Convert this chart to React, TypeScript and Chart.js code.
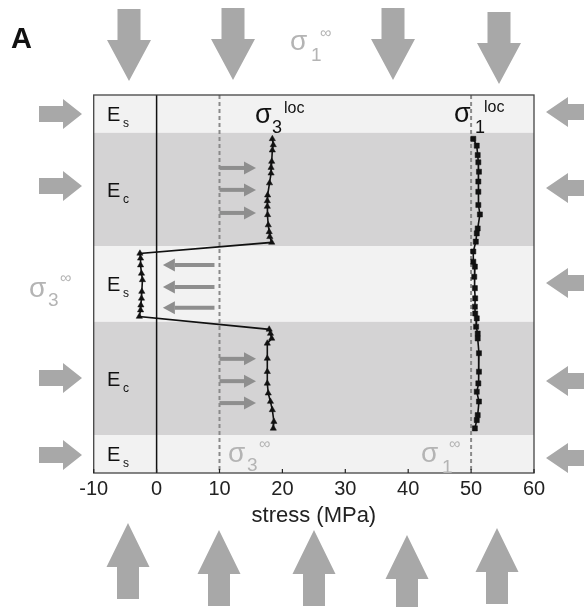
import React, { useEffect, useRef } from "react";
import { Chart, registerables } from "chart.js";
Chart.register(...registerables);

// ---- data ----
const xTicks = [-10, 0, 10, 20, 30, 40, 50, 60];
const layerNames = ["s", "c", "s", "c", "s"]; // E_s / E_c
const layerBounds = [0, 10, 40, 60, 90, 100]; // depth (top -> bottom)
const sigma3FarField = 10;
const sigma1FarField = 50;

const sigma3Depth = [11.6, 13.2, 14.6, 17.6, 19.2, 20.7, 23.3, 26.5, 28.0, 29.5, 31.7, 34.4, 36.2, 37.5, 39.0,
  41.9, 43.2, 45.0, 47.2, 48.9, 52.0, 53.8, 55.6, 56.9, 58.6,
  62.0, 63.1, 64.4, 65.7, 69.7, 73.2, 76.3, 78.9, 81.1, 83.3, 86.4, 88.2];
const sigma3Stress = [18.4, 18.55, 18.4, 18.3, 18.2, 18.2, 17.95, 17.65, 17.6, 17.6, 17.65, 17.75, 17.9, 18.0, 18.3,
  -2.65, -2.55, -2.55, -2.4, -2.25, -2.35, -2.4, -2.5, -2.55, -2.75,
  17.9, 18.1, 18.3, 17.6, 17.6, 17.6, 17.6, 17.75, 18.1, 18.4, 18.65, 18.55];

const sigma1Depth = [11.6, 13.4, 15.9, 17.8, 20.3, 22.9, 25.6, 29.1, 31.6, 35.3, 36.6, 38.8,
  41.4, 44.1, 45.4, 48.1, 51.1, 53.8, 56.0, 57.8, 59.1,
  61.3, 63.1, 64.4, 68.3, 73.2, 76.3, 78.5, 81.1, 84.7, 86.0, 88.2];
const sigma1Stress = [50.35, 50.9, 51.05, 51.15, 51.25, 51.15, 51.15, 51.15, 51.4, 51.05, 50.9, 50.75,
  50.35, 50.35, 50.6, 50.5, 50.6, 50.65, 50.6, 50.65, 50.9,
  50.8, 51.05, 51.05, 51.25, 51.25, 51.15, 50.9, 51.25, 51.05, 50.9, 50.6];

// schematic inner load arrows (depths)
const pushRightDepths = [19.3, 25.1, 31.2, 69.8, 75.7, 81.5];
const pushLeftDepths = [45.0, 50.8, 56.3];

const FONT = "'Liberation Sans', Arial, Helvetica, sans-serif";
const BIG_ARROW = "#a8a8a8";
const SMALL_ARROW = "#8e8e8e";
const FAR_TEXT = "#b4b4b4";

function blockArrow(ctx: CanvasRenderingContext2D, tipX: number, tipY: number, angle: number,
  shaftLen: number, shaftW: number, headLen: number, headW: number) {
  ctx.save();
  ctx.translate(tipX, tipY);
  ctx.rotate(angle);
  ctx.beginPath();
  ctx.moveTo(0, 0);
  ctx.lineTo(-headLen, -headW / 2);
  ctx.lineTo(-headLen, -shaftW / 2);
  ctx.lineTo(-headLen - shaftLen, -shaftW / 2);
  ctx.lineTo(-headLen - shaftLen, shaftW / 2);
  ctx.lineTo(-headLen, shaftW / 2);
  ctx.lineTo(-headLen, headW / 2);
  ctx.closePath();
  ctx.fillStyle = BIG_ARROW;
  ctx.fill();
  ctx.restore();
}

function lineArrow(ctx: CanvasRenderingContext2D, x0: number, x1: number, y: number) {
  const dir = x1 > x0 ? 1 : -1;
  const head = 12;
  ctx.save();
  ctx.strokeStyle = SMALL_ARROW;
  ctx.fillStyle = SMALL_ARROW;
  ctx.lineWidth = 4;
  ctx.beginPath();
  ctx.moveTo(x0, y);
  ctx.lineTo(x1 - dir * head, y);
  ctx.stroke();
  ctx.beginPath();
  ctx.moveTo(x1, y);
  ctx.lineTo(x1 - dir * head, y - 6.5);
  ctx.lineTo(x1 - dir * head, y + 6.5);
  ctx.closePath();
  ctx.fill();
  ctx.restore();
}

function sigmaLabel(ctx: CanvasRenderingContext2D, x: number, base: number, sub: string, sup: string,
  color: string, size: number, subDx: number, subDy: number, supDx: number, supDy: number, supSize: number) {
  ctx.save();
  ctx.fillStyle = color;
  ctx.textBaseline = "alphabetic";
  ctx.textAlign = "left";
  ctx.font = `${size}px ${FONT}`;
  ctx.fillText("σ", x, base);
  ctx.font = `${Math.round(size * 0.68)}px ${FONT}`;
  ctx.fillText(sub, x + subDx, base + subDy);
  ctx.font = `${supSize}px ${FONT}`;
  ctx.fillText(sup, x + supDx, base + supDy);
  ctx.restore();
}

const decorPlugin = {
  id: "decor",
  beforeDatasetsDraw(chart: any) {
    const { ctx, chartArea: a, scales } = chart;
    const xs = scales.x, ys = scales.y;
    ctx.save();
    // layer bands
    for (let i = 0; i < layerNames.length; i++) {
      const y0 = ys.getPixelForValue(layerBounds[i]);
      const y1 = ys.getPixelForValue(layerBounds[i + 1]);
      ctx.fillStyle = layerNames[i] === "c" ? "#d4d3d4" : "#f2f2f2";
      ctx.fillRect(a.left, y0, a.right - a.left, y1 - y0);
    }
    // zero line
    ctx.strokeStyle = "#111";
    ctx.lineWidth = 1.5;
    ctx.beginPath();
    const x0 = xs.getPixelForValue(0);
    ctx.moveTo(x0, a.top);
    ctx.lineTo(x0, a.bottom);
    ctx.stroke();
    // far field dashed lines
    ctx.strokeStyle = "#8a8a8a";
    ctx.lineWidth = 2;
    ctx.setLineDash([4, 3]);
    for (const v of [sigma3FarField, sigma1FarField]) {
      const px = xs.getPixelForValue(v);
      ctx.beginPath();
      ctx.moveTo(px, a.top);
      ctx.lineTo(px, a.bottom);
      ctx.stroke();
    }
    ctx.setLineDash([]);
    ctx.restore();
    // inner arrows
    for (const d of pushRightDepths) {
      lineArrow(ctx, xs.getPixelForValue(10), xs.getPixelForValue(15.8), ys.getPixelForValue(d));
    }
    for (const d of pushLeftDepths) {
      lineArrow(ctx, xs.getPixelForValue(9.2), xs.getPixelForValue(1.0), ys.getPixelForValue(d));
    }
  },
  afterDraw(chart: any) {
    const { ctx, chartArea: a, scales } = chart;
    const xs = scales.x, ys = scales.y;
    ctx.save();
    // plot frame
    ctx.strokeStyle = "#444";
    ctx.lineWidth = 1.3;
    ctx.strokeRect(a.left, a.top, a.right - a.left, a.bottom - a.top);
    // inner tick marks
    ctx.strokeStyle = "#222";
    ctx.lineWidth = 1.2;
    for (const v of xTicks) {
      const px = xs.getPixelForValue(v);
      ctx.beginPath();
      ctx.moveTo(px, a.bottom);
      ctx.lineTo(px, a.bottom - 4);
      ctx.stroke();
    }
    // layer labels
    ctx.fillStyle = "#111";
    ctx.textAlign = "left";
    ctx.textBaseline = "alphabetic";
    for (let i = 0; i < layerNames.length; i++) {
      const mid = ys.getPixelForValue((layerBounds[i] + layerBounds[i + 1]) / 2);
      ctx.font = `20px ${FONT}`;
      ctx.fillText("E", 107, mid + 7);
      ctx.font = `12px ${FONT}`;
      ctx.fillText(layerNames[i], 123, mid + 13);
    }
    // panel letter
    ctx.font = `bold 29px ${FONT}`;
    ctx.fillStyle = "#111";
    ctx.fillText("A", 11, 48);
    ctx.restore();

    // local stress labels
    sigmaLabel(ctx, 255, 123, "3", "loc", "#111", 27, 17, 10, 29, -10, 16);
    sigmaLabel(ctx, 454, 122, "1", "loc", "#111", 27, 21, 11, 30, -10, 16);
    // far-field labels
    sigmaLabel(ctx, 290, 50, "1", "∞", FAR_TEXT, 28, 21, 11, 30, -12, 16);
    sigmaLabel(ctx, 29, 297, "3", "∞", FAR_TEXT, 28, 19, 9, 31, -14, 16);
    sigmaLabel(ctx, 228, 462, "3", "∞", FAR_TEXT, 28, 19, 9, 31, -13, 16);
    sigmaLabel(ctx, 421, 462, "1", "∞", FAR_TEXT, 28, 21, 11, 28, -13, 16);

    // outer block arrows
    const DOWN = Math.PI / 2, UP = -Math.PI / 2, RIGHT = 0, LEFT = Math.PI;
    const top: [number, number][] = [[129, 81], [233, 80], [393, 80], [499, 84]];
    for (const [x, y] of top) blockArrow(ctx, x, y, DOWN, 31, 23, 41, 44);
    const bottom: [number, number][] = [[128, 523], [219, 530], [314, 530], [407, 535], [497, 528]];
    for (const [x, y] of bottom) blockArrow(ctx, x, y, UP, 32, 22, 44, 43);
    const left = [114, 186, 378, 455];
    for (const y of left) blockArrow(ctx, 82, y, RIGHT, 24, 16, 19, 30);
    const right = [112, 188, 283, 381, 458];
    for (const y of right) blockArrow(ctx, 546, y, LEFT, 30, 16, 22, 30);
  },
};

export default function App() {
  const ref = useRef<HTMLCanvasElement | null>(null);
  useEffect(() => {
    if (!ref.current) return;
    const chart = new Chart(ref.current, {
      type: "scatter",
      data: {
        datasets: [
          {
            label: "σ3 loc",
            data: sigma3Depth.map((d, i) => ({ x: sigma3Stress[i], y: d })),
            showLine: true,
            borderColor: "#111",
            borderWidth: 1.6,
            pointStyle: "triangle",
            pointRadius: 3.6,
            pointBackgroundColor: "#111",
            pointBorderColor: "#111",
            pointBorderWidth: 0.5,
          },
          {
            label: "σ1 loc",
            data: sigma1Depth.map((d, i) => ({ x: sigma1Stress[i], y: d })),
            showLine: true,
            borderColor: "#111",
            borderWidth: 1.6,
            pointStyle: "rect",
            pointRadius: 3.6,
            pointBackgroundColor: "#111",
            pointBorderColor: "#111",
            pointBorderWidth: 0.5,
          },
        ],
      },
      options: {
        animation: false,
        responsive: true,
        maintainAspectRatio: false,
        layout: { padding: { left: 93.7, right: 50, top: 95, bottom: 74 } },
        plugins: { legend: { display: false }, tooltip: { enabled: false } },
        scales: {
          x: {
            type: "linear",
            min: -10,
            max: 60,
            afterBuildTicks: (s: any) => { s.ticks = xTicks.map((v) => ({ value: v })); },
            afterFit: (s: any) => { s.height = 60; },
            ticks: {
              font: { size: 20, family: FONT },
              color: "#222",
              padding: 4,
              maxRotation: 0,
              autoSkip: false,
            },
            grid: { display: false, drawTicks: false },
            border: { display: false },
            title: {
              display: true,
              text: "stress (MPa)",
              font: { size: 22, family: FONT },
              color: "#222",
              padding: { top: 0, bottom: 4 },
            },
          },
          y: { type: "linear", min: 0, max: 100, reverse: true, display: false },
        },
      },
      plugins: [decorPlugin],
    });
    return () => chart.destroy();
  }, []);
  return (
    <div style={{ position: "fixed", left: 0, top: 0, width: 584, height: 607, background: "#fff" }}>
      <canvas ref={ref} />
    </div>
  );
}
